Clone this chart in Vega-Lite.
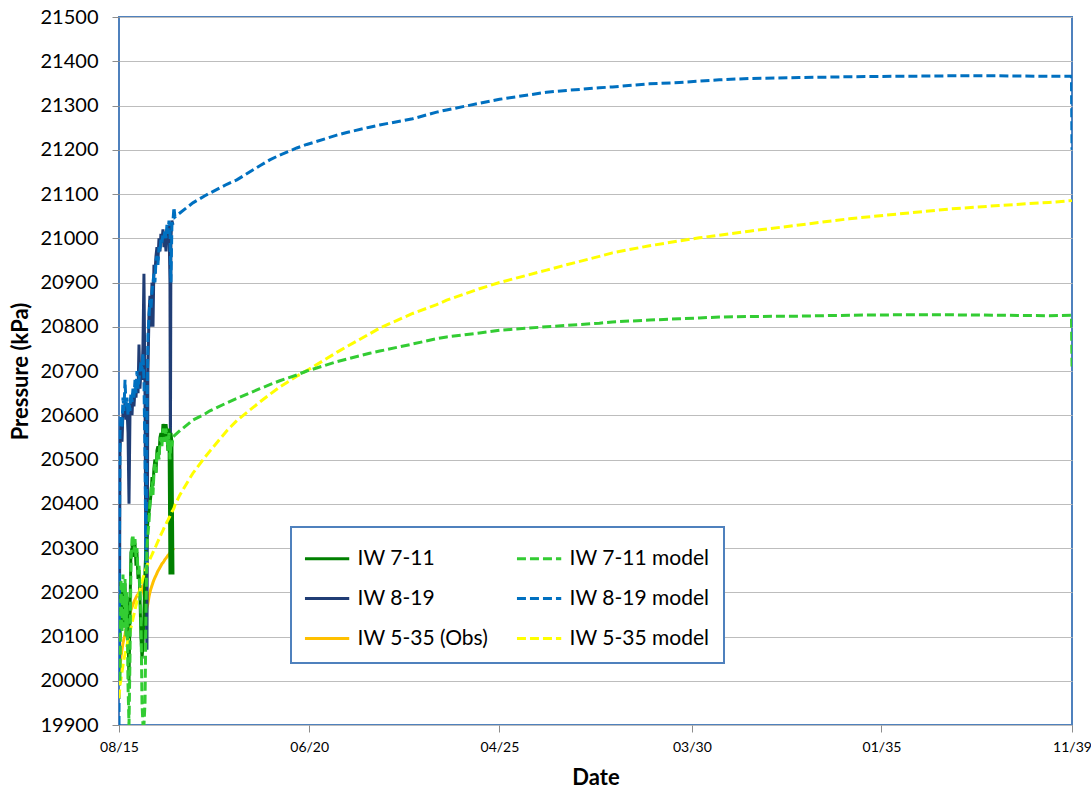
{
  "$schema": "https://vega.github.io/schema/vega-lite/v6.json",
  "width": 953,
  "height": 708,
  "autosize": {"type": "none"},
  "padding": {"left": 119, "top": 17, "right": 19, "bottom": 64},
  "background": "white",
  "config": {
    "font": "Lato",
    "view": {"stroke": "#4F81BD", "strokeWidth": 2},
    "axis": {"domain": false, "tickColor": "#8C8C8C", "tickSize": 7, "gridColor": "#BDBDBD", "gridWidth": 1, "labelColor": "black", "titleColor": "black", "labelFont": "Lato", "titleFont": "Lato"},
    "legend": {"symbolType": "M-1.4,0H1.4", "symbolSize": 1000, "symbolStrokeWidth": 3, "symbolOffset": 4.6, "labelFont": "Lato", "labelFontSize": 21, "labelColor": "black", "labelOffset": 13, "rowPadding": 12, "columnPadding": 21, "padding": 14, "strokeColor": "#4F81BD", "strokeWidth": 2, "fillColor": "white", "columns": 2}
  },
  "data": {"values": [
    {"date":"2015-08-15","nm":19900,"o":19990,"ym":19960},
    {"date":"2015-08-19","n":20050,"nm":20300},
    {"date":"2015-08-24","g":20100,"gm":20000,"n":20520,"nm":20560,"o":20030,"ym":19990},
    {"date":"2015-09-03","g":20200,"gm":20230,"n":20580,"nm":20600,"o":20055,"ym":20005},
    {"date":"2015-09-12","g":20120,"gm":20110,"n":20540,"nm":20570,"o":20070,"ym":20020},
    {"date":"2015-09-21","g":20210,"gm":20240,"n":20610,"nm":20640,"o":20085,"ym":20035},
    {"date":"2015-09-30","g":20130,"gm":20120,"n":20600,"nm":20610,"o":20095,"ym":20048},
    {"date":"2015-10-10","g":20220,"gm":20230,"n":20630,"nm":20680,"o":20105,"ym":20060},
    {"date":"2015-10-19","g":20120,"gm":20100,"n":20590,"nm":20620,"o":20115,"ym":20070},
    {"date":"2015-10-28","g":20190,"gm":20200,"n":20620,"nm":20640,"o":20125,"ym":20080},
    {"date":"2015-11-07","g":20100,"gm":19990,"n":20560,"nm":20600,"o":20135,"ym":20090},
    {"date":"2015-11-16","g":20000,"gm":19900,"n":20400,"nm":20630,"o":20145,"ym":20100},
    {"date":"2015-11-25","g":20150,"gm":20050,"n":20600,"nm":20610,"o":20152,"ym":20110},
    {"date":"2015-12-04","g":20290,"gm":20260,"n":20640,"nm":20650,"o":20160,"ym":20120},
    {"date":"2015-12-14","g":20300,"gm":20320,"n":20600,"nm":20630,"o":20166,"ym":20130},
    {"date":"2015-12-23","g":20320,"gm":20330,"n":20650,"nm":20660,"o":20172,"ym":20140},
    {"date":"2016-01-01","g":20280,"gm":20290,"n":20620,"nm":20640,"o":20178,"ym":20150},
    {"date":"2016-01-11","g":20310,"gm":20320,"n":20660,"nm":20680,"o":20183,"ym":20160},
    {"date":"2016-01-20","g":20260,"gm":20280,"n":20640,"nm":20650,"o":20188,"ym":20170},
    {"date":"2016-01-29","g":20290,"gm":20300,"n":20680,"nm":20700,"o":20192,"ym":20180},
    {"date":"2016-02-08","g":20230,"gm":20240,"n":20650,"nm":20660,"o":20196,"ym":20188},
    {"date":"2016-02-17","g":20250,"gm":20260,"n":20760,"nm":20680,"o":20200,"ym":20196},
    {"date":"2016-02-26","g":20190,"gm":20200,"n":20660,"nm":20700,"o":20204,"ym":20205},
    {"date":"2016-03-06","g":20100,"gm":20150,"n":20700,"nm":20720,"o":20208,"ym":20214},
    {"date":"2016-03-16","g":20050,"gm":19950,"n":20680,"nm":20700,"o":20212,"ym":20223},
    {"date":"2016-03-25","g":20080,"gm":19900,"n":20760,"nm":20740,"o":20205,"ym":20232},
    {"date":"2016-04-03","g":20150,"gm":19900,"n":20920,"nm":20680,"o":20195,"ym":20239},
    {"date":"2016-04-13","g":20250,"gm":19950,"n":20640,"nm":20500,"o":20180,"ym":20246},
    {"date":"2016-04-22","g":20300,"gm":20150,"n":20200,"nm":20250,"o":20168,"ym":20253},
    {"date":"2016-05-01","g":20330,"gm":20300,"n":20070,"nm":20600,"o":20165,"ym":20260},
    {"date":"2016-05-10","g":20360,"gm":20330,"n":20700,"nm":20780,"o":20175,"ym":20265},
    {"date":"2016-05-20","g":20380,"gm":20360,"n":20830,"nm":20820,"o":20190,"ym":20270},
    {"date":"2016-05-29","g":20400,"gm":20400,"n":20870,"nm":20860,"o":20200,"ym":20275},
    {"date":"2016-06-07","g":20420,"gm":20430,"n":20800,"nm":20840,"o":20208,"ym":20280},
    {"date":"2016-06-17","g":20460,"gm":20450,"n":20900,"nm":20880,"o":20215,"ym":20285},
    {"date":"2016-06-26","g":20440,"gm":20420,"n":20800,"nm":20900,"o":20222,"ym":20290},
    {"date":"2016-07-05","g":20480,"gm":20470,"n":20940,"nm":20920,"o":20228,"ym":20295},
    {"date":"2016-07-14","g":20500,"gm":20490,"n":20920,"nm":20900,"o":20233,"ym":20300},
    {"date":"2016-07-24","g":20470,"gm":20470,"n":20960,"nm":20950,"o":20238,"ym":20305},
    {"date":"2016-08-02","g":20520,"gm":20510,"n":20980,"nm":20960,"o":20243,"ym":20310},
    {"date":"2016-08-11","g":20530,"gm":20520,"n":20950,"nm":20940,"o":20248,"ym":20315},
    {"date":"2016-08-21","g":20510,"gm":20500,"n":21000,"nm":20980,"o":20252,"ym":20320},
    {"date":"2016-08-30","g":20550,"gm":20540,"n":20970,"nm":20970,"o":20256,"ym":20325},
    {"date":"2016-09-08","g":20560,"gm":20550,"n":21010,"nm":21000,"o":20260,"ym":20330},
    {"date":"2016-09-17","g":20540,"gm":20530,"n":20990,"nm":20990,"o":20264,"ym":20335},
    {"date":"2016-09-27","g":20580,"gm":20570,"n":21020,"nm":21010,"o":20267,"ym":20340},
    {"date":"2016-10-06","g":20570,"gm":20560,"n":20980,"nm":21000,"o":20270,"ym":20345},
    {"date":"2016-10-15","g":20550,"gm":20540,"n":21010,"nm":21020,"o":20274,"ym":20350},
    {"date":"2016-10-25","g":20580,"gm":20570,"n":20970,"nm":21000,"o":20277,"ym":20354},
    {"date":"2016-11-03","g":20560,"gm":20550,"n":21020,"nm":21030,"o":20280,"ym":20359},
    {"date":"2016-11-12","g":20520,"gm":20520,"n":21000,"nm":21010,"o":20283,"ym":20363},
    {"date":"2016-11-22","g":20570,"gm":20560,"n":21030,"nm":21040,"o":20286,"ym":20368},
    {"date":"2016-12-01","g":20240,"gm":20500,"n":20900,"nm":21020,"o":20289,"ym":20372},
    {"date":"2016-12-05","n":20500},
    {"date":"2016-12-10","g":20560,"gm":20540,"n":21000,"nm":20900,"o":20291,"ym":20377},
    {"date":"2016-12-19","g":20540,"gm":20530,"n":21040,"nm":21030,"o":20294,"ym":20382},
    {"date":"2016-12-29","g":20240,"gm":20551,"n":21030,"nm":21040,"o":20297,"ym":20386},
    {"date":"2017-01-07","nm":21070,"o":20300,"ym":20390},
    {"date":"2017-01-16","gm":20555,"nm":21048,"ym":20397},
    {"date":"2017-03-03","gm":20565,"nm":21057,"ym":20420},
    {"date":"2017-07-02","gm":20589,"nm":21080,"ym":20469},
    {"date":"2017-10-22","gm":20603,"nm":21096,"ym":20505},
    {"date":"2017-12-07","gm":20610,"nm":21102,"ym":20519},
    {"date":"2018-05-14","gm":20628,"nm":21122,"ym":20565},
    {"date":"2018-08-15","gm":20638,"nm":21132,"ym":20588},
    {"date":"2019-03-17","gm":20660,"nm":21164,"ym":20630},
    {"date":"2019-06-17","gm":20669,"nm":21177,"ym":20647},
    {"date":"2019-09-18","gm":20678,"nm":21188,"ym":20664},
    {"date":"2020-02-23","gm":20691,"nm":21204,"ym":20688},
    {"date":"2020-05-26","gm":20700,"nm":21212,"ym":20701},
    {"date":"2020-07-21","gm":20704,"nm":21216,"ym":20709},
    {"date":"2021-03-01","gm":20721,"nm":21233,"ym":20742},
    {"date":"2021-06-02","gm":20727,"nm":21239,"ym":20755},
    {"date":"2022-01-01","gm":20740,"nm":21251,"ym":20784},
    {"date":"2022-04-04","gm":20745,"nm":21256,"ym":20797},
    {"date":"2023-02-05","gm":20761,"nm":21270,"ym":20830},
    {"date":"2023-09-16","gm":20773,"nm":21285,"ym":20850},
    {"date":"2023-12-18","gm":20777,"nm":21290,"ym":20860},
    {"date":"2024-10-19","gm":20786,"nm":21305,"ym":20886},
    {"date":"2025-04-23","gm":20792,"nm":21314,"ym":20900},
    {"date":"2026-07-04","gm":20800,"nm":21330,"ym":20928},
    {"date":"2027-01-06","gm":20803,"nm":21334,"ym":20940},
    {"date":"2027-11-08","gm":20808,"nm":21340,"ym":20959},
    {"date":"2028-03-08","gm":20811,"nm":21342,"ym":20967},
    {"date":"2029-02-15","gm":20815,"nm":21349,"ym":20983},
    {"date":"2029-11-20","gm":20818,"nm":21352,"ym":20994},
    {"date":"2030-05-25","gm":20820,"nm":21355,"ym":21001},
    {"date":"2030-11-27","gm":20822,"nm":21358,"ym":21007},
    {"date":"2031-09-02","gm":20823,"nm":21361,"ym":21016},
    {"date":"2032-12-09","gm":20824,"nm":21363,"ym":21030},
    {"date":"2034-03-19","gm":20826,"nm":21365,"ym":21044},
    {"date":"2035-06-26","gm":20827,"nm":21366,"ym":21055},
    {"date":"2036-10-03","gm":20827,"nm":21367,"ym":21066},
    {"date":"2038-01-11","gm":20826,"nm":21367,"ym":21074},
    {"date":"2039-04-20","gm":20825,"nm":21366,"ym":21081},
    {"date":"2039-11-15","gm":20826,"nm":21366,"ym":21085},
    {"date":"2039-11-20","gm":20710,"nm":21200,"ym":21086}
  ]},
  "transform": [
    {"fold": ["g", "gm", "n", "nm", "o", "ym"], "as": ["key", "kPa"]},
    {"filter": "isValid(datum.kPa)"},
    {"lookup": "key", "from": {"data": {"values": [
      {"key": "g", "series": "IW 7-11"},
      {"key": "gm", "series": "IW 7-11 model"},
      {"key": "n", "series": "IW 8-19"},
      {"key": "nm", "series": "IW 8-19 model"},
      {"key": "o", "series": "IW 5-35 (Obs)"},
      {"key": "ym", "series": "IW 5-35 model"}
    ]}, "key": "key", "fields": ["series"]}}
  ],
  "encoding": {
    "x": {
      "field": "date", "type": "temporal",
      "scale": {"domain": [{"year": 2015, "month": 8, "date": 15}, {"year": 2039, "month": 11, "date": 20}], "nice": false},
      "axis": {
        "title": "Date", "titleFontSize": 22, "titleFontWeight": "bold", "titlePadding": 13,
        "format": "%m/%y", "labelFontSize": 14, "labelPadding": 8, "labelFlush": false, "labelOverlap": false, "grid": false,
        "values": [
          {"year": 2015, "month": 8, "date": 15},
          {"year": 2020, "month": 6, "date": 18},
          {"year": 2025, "month": 4, "date": 22},
          {"year": 2030, "month": 3, "date": 17},
          {"year": 2035, "month": 1, "date": 13},
          {"year": 2039, "month": 11, "date": 20}
        ]
      }
    },
    "y": {
      "field": "kPa", "type": "quantitative",
      "scale": {"domain": [19900, 21500], "nice": false, "zero": false},
      "axis": {
        "title": "Pressure (kPa)", "titleFontSize": 22, "titleFontWeight": "bold", "titlePadding": 8,
        "format": "d", "labelFontSize": 20, "labelPadding": 14, "grid": true,
        "values": [19900, 20000, 20100, 20200, 20300, 20400, 20500, 20600, 20700, 20800, 20900, 21000, 21100, 21200, 21300, 21400, 21500]
      }
    },
    "color": {
      "field": "series", "type": "nominal",
      "scale": {
        "domain": ["IW 7-11", "IW 8-19", "IW 5-35 (Obs)", "IW 7-11 model", "IW 8-19 model", "IW 5-35 model"],
        "range": ["#008000", "#203D75", "#FFC000", "#33CC33", "#0070C0", "#FFFF00"]
      },
      "legend": {"title": null, "orient": "none", "legendX": 172, "legendY": 510}
    },
    "strokeDash": {
      "field": "series", "type": "nominal",
      "scale": {
        "domain": ["IW 7-11", "IW 8-19", "IW 5-35 (Obs)", "IW 7-11 model", "IW 8-19 model", "IW 5-35 model"],
        "range": [[1, 0], [1, 0], [1, 0], [9, 4], [9, 4], [9, 4]]
      },
      "legend": {"title": null, "orient": "none", "legendX": 172, "legendY": 510}
    }
  },
  "layer": [
    {
      "transform": [{"filter": {"field": "key", "oneOf": ["g", "n", "o"]}}],
      "mark": {"type": "line", "strokeWidth": 3, "clip": true}
    },
    {
      "transform": [{"filter": {"field": "key", "oneOf": ["gm", "nm", "ym"]}}],
      "mark": {"type": "line", "strokeWidth": 3, "clip": true}
    }
  ]
}
